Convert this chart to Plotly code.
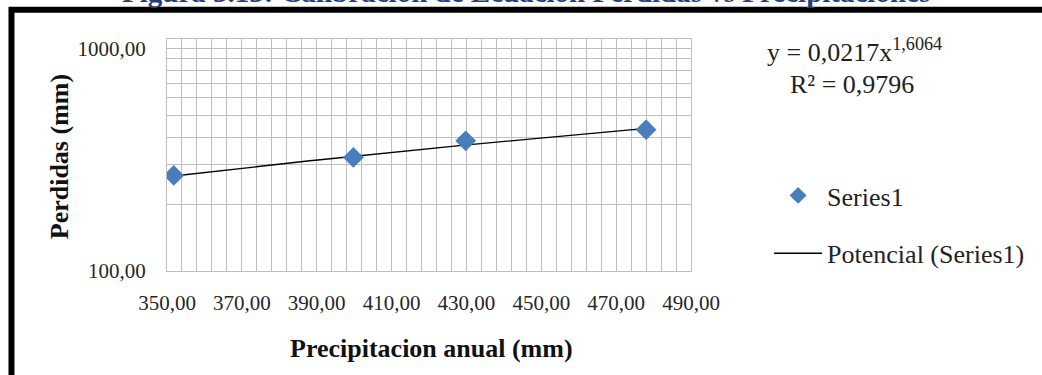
import plotly.graph_objects as go
import numpy as np

# ---- data ----
precip = [351.8, 399.8, 429.8, 478.0]          # Precipitacion anual (mm)
perdidas = [269.0, 324.0, 385.0, 432.0]        # Perdidas (mm)
coef_a = 0.0217
coef_b = 1.6064
r2_text = "0,9796"
series_name = "Series1"
trend_name = "Potencial (Series1)"
x_ticks = [350, 370, 390, 410, 430, 450, 470, 490]
y_ticks = [100, 1000]
y_tick_text = ["100,00", "1000,00"]
y_minor = [200, 300, 400, 500, 600, 700, 800, 900]

W, H = 1042, 375
L, R, T, B = 167, 697, 39, 271


def px(xp):
    return (xp - L) / (R - L)


def py(yp):
    return (B - yp) / (B - T)


trend_x = np.linspace(min(precip), max(precip), 60)
trend_y = coef_a * trend_x ** coef_b

serif = "Liberation Serif, Times New Roman, serif"
grid = "#BFBFBF"

fig = go.Figure()
fig.add_trace(go.Scatter(
    x=trend_x, y=trend_y, mode="lines", name=trend_name,
    line=dict(color="black", width=1.4), showlegend=False, hoverinfo="skip"))
fig.add_trace(go.Scatter(
    x=precip, y=perdidas, mode="markers", name=series_name,
    marker=dict(symbol="diamond", size=16, color="#4A7EBB"),
    showlegend=False))
# legend entries
fig.add_trace(go.Scatter(
    x=[None], y=[None], mode="markers", name=series_name, legendgroup="a",
    marker=dict(symbol="diamond", size=13, color="#4A7EBB")))
fig.add_trace(go.Scatter(
    x=[None], y=[None], mode="lines", name=trend_name, legendgroup="b",
    line=dict(color="black", width=1.4)))

fig.update_layout(
    width=W, height=H,
    margin=dict(l=L, r=W - R, t=T, b=H - B, pad=0),
    paper_bgcolor="white", plot_bgcolor="white",
    separators=",.",
    font=dict(family=serif, color="#222222"),
    showlegend=True,
    legend=dict(
        x=px(776), xanchor="left", y=py(172), yanchor="top",
        font=dict(family=serif, size=26, color="#222222"),
        itemwidth=48, tracegroupgap=21, traceorder="grouped",
        bgcolor="rgba(0,0,0,0)", borderwidth=0),
    xaxis=dict(
        range=[350, 490], tickvals=x_ticks, tickformat=".2f",
        showgrid=True, gridcolor=grid, gridwidth=1,
        minor=dict(dtick=4, tick0=350, showgrid=True, gridcolor=grid, gridwidth=1),
        showline=True, linecolor=grid, linewidth=1, mirror=True,
        ticks="outside", ticklen=13, tickcolor="rgba(0,0,0,0)",
        tickfont=dict(family=serif, size=21, color="#262626"),
        zeroline=False, fixedrange=True),
    yaxis=dict(
        type="log", range=[2, np.log10(1000) + (271 - 39 - 222.4) / 222.4],
        tickvals=y_ticks, ticktext=y_tick_text,
        showgrid=True, gridcolor=grid, gridwidth=1,
        minor=dict(tickvals=y_minor, showgrid=True, gridcolor=grid, gridwidth=1),
        showline=True, linecolor=grid, linewidth=1, mirror=True,
        ticks="outside", ticklen=16, tickcolor="rgba(0,0,0,0)",
        tickfont=dict(family=serif, size=21, color="#262626"),
        zeroline=False, fixedrange=True),
)

ann = []
# clipped figure caption at very top
ann.append(dict(
    text="<b>Figura 3.13: Calibración de Ecuación Perdidas vs Precipitaciones</b>",
    xref="paper", yref="paper", x=px(530), y=py(-8), xanchor="center", yanchor="middle",
    showarrow=False, font=dict(family=serif, size=29, color="#1F3F7F")))
# axis titles
ann.append(dict(
    text="<b>Precipitacion anual (mm)</b>", xref="paper", yref="paper",
    x=px(435), y=py(348), xanchor="center", yanchor="middle", showarrow=False,
    font=dict(family=serif, size=26, color="#111111")))
ann.append(dict(
    text="<b>Perdidas (mm)</b>", xref="paper", yref="paper",
    x=px(58), y=py(157), xanchor="center", yanchor="middle", showarrow=False,
    textangle=-90, font=dict(family=serif, size=26, color="#111111")))
# trendline equation
ann.append(dict(
    text="y = " + f"{coef_a:.4f}".replace(".", ",") + "x<sup>" + f"{coef_b:.4f}".replace(".", ",") + "</sup>",
    xref="paper", yref="paper", x=px(862), y=py(50), xanchor="center", yanchor="middle",
    showarrow=False, font=dict(family=serif, size=26, color="#222222")))
ann.append(dict(
    text="R² = " + r2_text,
    xref="paper", yref="paper", x=px(860), y=py(84), xanchor="center", yanchor="middle",
    showarrow=False, font=dict(family=serif, size=26, color="#222222")))
fig.update_layout(annotations=ann)

# thick black frame around the chart
fig.add_shape(type="rect", xref="paper", yref="paper",
              x0=px(9.7), x1=px(1200), y0=py(9.7), y1=py(500),
              line=dict(color="black", width=6), fillcolor="rgba(0,0,0,0)", layer="above")

fig.write_html("out.html", config={"displayModeBar": False, "staticPlot": True},
               post_script="document.body.style.margin='0';")
